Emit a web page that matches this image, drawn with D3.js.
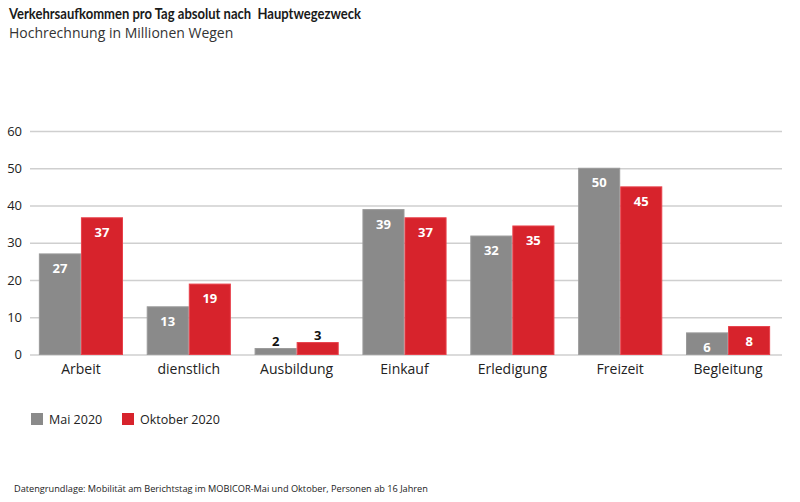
<!DOCTYPE html>
<html><head><meta charset="utf-8">
<script src="https://cdn.jsdelivr.net/npm/d3@7"></script>
<style>body{margin:0;background:#fff}svg{display:block}text{font-family:"Open Sans",sans-serif}</style>
</head><body><svg id="c" width="800" height="502"></svg>
<script>
const categories = ["Arbeit","dienstlich","Ausbildung","Einkauf","Erledigung","Freizeit","Begleitung"];
const seriesNames = ["Mai 2020","Oktober 2020"];
const mai = [27.0, 12.8, 1.6, 38.9, 31.8, 50.0, 5.8];
const oktober = [36.7, 18.9, 3.2, 36.7, 34.5, 45.0, 7.5];
const yTicks = [0,10,20,30,40,50,60];
const colors = ["#8a8a8a","#d7232c"];
const strokes = ["#9a9a9a","#e8404a"];

const svg = d3.select("#c");
const x = d3.scaleBand().domain(categories).range([27,782]).paddingInner(0.22).paddingOuter(0.11);
const xs = d3.scaleBand().domain(seriesNames).range([0,x.bandwidth()]);
const y = d3.scaleLinear().domain([0,60]).range([354.5,131]);

svg.append("text").attr("x",9).attr("y",19).attr("font-size",14.5).attr("font-weight",700).attr("fill","#1a1a1a")
  .style("font-family","Lato,sans-serif")
  .attr("textLength",352).attr("lengthAdjust","spacingAndGlyphs")
  .text("Verkehrsaufkommen pro Tag absolut nach\u00a0 Hauptwegezweck");
svg.append("text").attr("x",9).attr("y",38).attr("font-size",14).attr("fill","#333").text("Hochrechnung in Millionen Wegen");

const yAxis = svg.append("g").attr("transform","translate(30,0)")
  .call(d3.axisLeft(y).tickValues(yTicks).tickSize(-752).tickPadding(8));
yAxis.select(".domain").remove();
yAxis.selectAll(".tick line").attr("stroke","#cfcfcf").attr("stroke-width",1.3);
yAxis.selectAll(".tick text").attr("font-size",13).attr("fill","#222").attr("font-family","'Open Sans',sans-serif");

const series = [mai, oktober];
const g = svg.append("g");
series.forEach((vals,si)=>{
  const grp = g.append("g");
  grp.selectAll("rect").data(categories).join("rect")
    .attr("x",d=>x(d)+xs(seriesNames[si])+0.5)
    .attr("width",xs.bandwidth()-1)
    .attr("y",(d,i)=>y(vals[i]))
    .attr("height",(d,i)=>y(0)-y(vals[i]))
    .attr("fill",colors[si]).attr("stroke",strokes[si]).attr("stroke-width",1);
  grp.selectAll("text").data(categories).join("text")
    .attr("x",d=>x(d)+xs(seriesNames[si])+xs.bandwidth()/2)
    .attr("y",(d,i)=> vals[i] < 5 ? y(vals[i]) - 3 : y(vals[i]) + 19)
    .attr("text-anchor","middle").attr("font-size",13).attr("font-weight",700)
    .attr("fill",(d,i)=> vals[i] < 5 ? "#111" : "#fff")
    .text((d,i)=>Math.round(vals[i]));
});

const xAxis = svg.append("g").attr("transform",`translate(0,${y(0)})`)
  .call(d3.axisBottom(x).tickSize(0).tickPadding(10));
xAxis.select(".domain").remove();
xAxis.selectAll(".tick text").attr("font-size",14).attr("fill","#222").attr("font-family","'Open Sans',sans-serif");

const legX = [31,122];
seriesNames.forEach((n,i)=>{
  svg.append("rect").attr("x",legX[i]).attr("y",413).attr("width",12).attr("height",12).attr("fill",colors[i]);
  svg.append("text").attr("x",legX[i]+18).attr("y",424).attr("font-size",12.5).attr("fill","#222").text(n);
});

svg.append("text").attr("x",14).attr("y",492).attr("font-size",9.2).attr("fill","#222")
  .text("Datengrundlage: Mobilität am Berichtstag im MOBICOR-Mai und Oktober, Personen ab 16 Jahren");
</script></body></html>
